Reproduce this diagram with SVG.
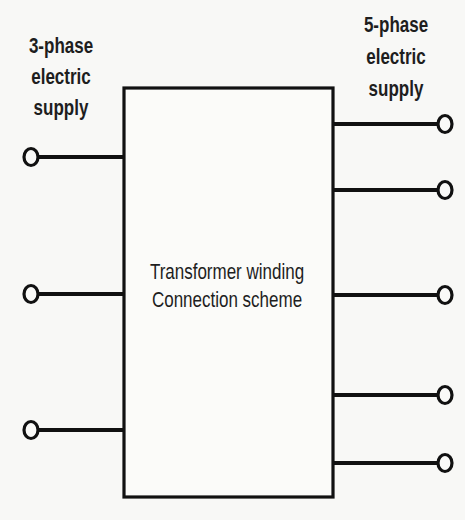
<svg xmlns="http://www.w3.org/2000/svg" width="465" height="520" viewBox="0 0 465 520">
<style>
.lbl{font-family:"Liberation Sans",Arial,sans-serif;font-weight:bold;font-size:17px;fill:#1e1e1e;text-anchor:middle}
.ctr{font-family:"Liberation Sans",Arial,sans-serif;font-size:17px;fill:#1e1e1e;text-anchor:middle}
.wire{stroke:#111;stroke-width:4;fill:none}
.term{stroke:#111;stroke-width:3.2;fill:#fafaf8}
</style>
<rect x="0" y="0" width="465" height="520" fill="#f8f8f6"/>
<g id="box">
<rect x="124" y="88" width="209" height="409" fill="#fbfbf9" stroke="#111" stroke-width="3.2"/>
<text class="ctr" transform="translate(227,279) scale(1,1.25)">Transformer winding</text>
<text class="ctr" transform="translate(227,307) scale(1,1.25)">Connection scheme</text>
</g>
<g id="label-3phase">
<text class="lbl" transform="translate(61,53) scale(1,1.3)">3-phase</text>
<text class="lbl" transform="translate(61,84) scale(1,1.3)">electric</text>
<text class="lbl" transform="translate(61,115) scale(1,1.3)">supply</text>
</g>
<g id="label-5phase">
<text class="lbl" transform="translate(396,32) scale(1,1.3)">5-phase</text>
<text class="lbl" transform="translate(396,64) scale(1,1.3)">electric</text>
<text class="lbl" transform="translate(396,96) scale(1,1.3)">supply</text>
</g>
<g id="connectors">
<line class="wire" x1="38" y1="157" x2="124" y2="157"/>
<line class="wire" x1="38" y1="294" x2="124" y2="294"/>
<line class="wire" x1="38" y1="430" x2="124" y2="430"/>
<line class="wire" x1="333" y1="124" x2="439" y2="124"/>
<line class="wire" x1="333" y1="190" x2="439" y2="190"/>
<line class="wire" x1="333" y1="295" x2="439" y2="295"/>
<line class="wire" x1="333" y1="395" x2="439" y2="395"/>
<line class="wire" x1="333" y1="463" x2="439" y2="463"/>
</g>
<g id="in1"><ellipse class="term" cx="31" cy="157" rx="7" ry="8.5"/></g>
<g id="in2"><ellipse class="term" cx="31" cy="294" rx="7" ry="8.5"/></g>
<g id="in3"><ellipse class="term" cx="31" cy="430" rx="7" ry="8.5"/></g>
<g id="out1"><ellipse class="term" cx="445" cy="124" rx="7" ry="8.5"/></g>
<g id="out2"><ellipse class="term" cx="445" cy="190" rx="7" ry="8.5"/></g>
<g id="out3"><ellipse class="term" cx="445" cy="295" rx="7" ry="8.5"/></g>
<g id="out4"><ellipse class="term" cx="445" cy="395" rx="7" ry="8.5"/></g>
<g id="out5"><ellipse class="term" cx="445" cy="463" rx="7" ry="8.5"/></g>
</svg>
